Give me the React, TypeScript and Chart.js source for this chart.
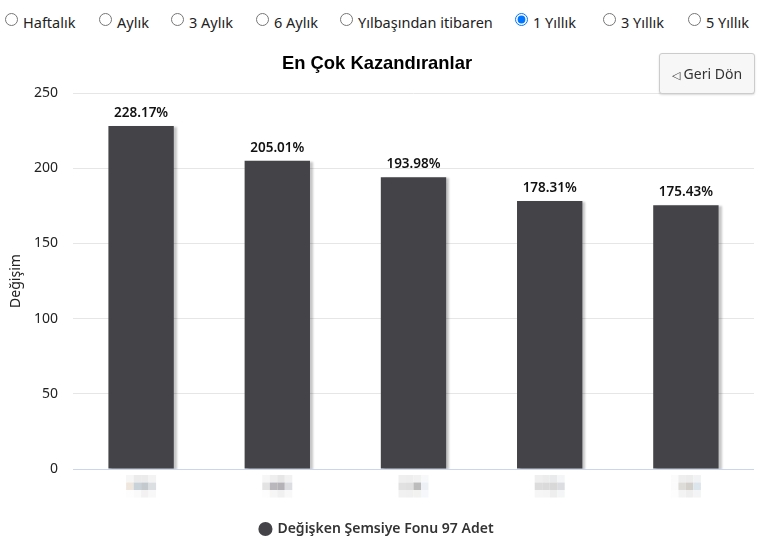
import { useEffect, useRef } from 'react';
import { Chart, registerables, type Plugin } from 'chart.js';

Chart.register(...registerables);

const categories = ['', '', '', '', ''];
const values = [228.17, 205.01, 193.98, 178.31, 175.43];
const yTicks = [0, 50, 100, 150, 200, 250];
const periods = ['Haftalık', 'Aylık', '3 Aylık', '6 Aylık', 'Yılbaşından itibaren', '1 Yıllık', '3 Yıllık', '5 Yıllık'];
const periodLeft = [5, 99, 171, 256, 340, 515, 603, 688];
const selectedPeriod = '1 Yıllık';
const seriesName = 'Değişken Şemsiye Fonu 97 Adet';

const uiFont = '"Noto Sans", sans-serif';

// the names under the bars are pixelated in the original, so they stay as soft blocks
const labelBlocks = [
  [['#f6f6f6', '#ebebeb', '#ebebeb', '#f3f3f3'], ['#efe6de', '#c9d2d8', '#c4c9ce', '#dcdfe1'], ['#fdfdfd', '#fafafa', '#f3f1f1', '#f8f8f8']],
  [['#f6f6f6', '#eeeeee', '#e6e6e6', '#f1f1f1'], ['#e3e3e3', '#b9b7bb', '#b5b2b7', '#dcdde0'], ['#fdfdfd', '#f6f6f6', '#f0f0f0', '#f8f8f8']],
  [['#efefef', '#eeeeee', '#f1f1f1', '#f6f8fa'], ['#e1e1e1', '#dfdfdf', '#bcbcbc', '#edf1f5'], ['#f1f1f1', '#f0f0f0', '#f2f2f0', '#f5f7fa']],
  [['#efefef', '#ececec', '#e9eaec', '#f3f5f7'], ['#dcdcdc', '#dadada', '#d8d8d8', '#dcdde0'], ['#f6f6f6', '#f5f5f5', '#eeeeee', '#f4f5f7']],
  [['#fbfbfb', '#eeeeee', '#ececec', '#f0f2f4'], ['#fbfbfb', '#dedcd8', '#d3d0cb', '#dce4ec'], ['#fdfdfd', '#f3f3f3', '#eeeeee', '#f3f4f5']],
];

const barShadow: Plugin = {
  id: 'barShadow',
  beforeDatasetDraw(chart) {
    const ctx = chart.ctx;
    ctx.save();
    ctx.shadowColor = 'rgba(0,0,0,0.22)';
    ctx.shadowOffsetX = 3;
    ctx.shadowOffsetY = 1;
    ctx.shadowBlur = 2;
  },
  afterDatasetDraw(chart) {
    chart.ctx.restore();
  },
};

const valueLabels: Plugin = {
  id: 'valueLabels',
  afterDatasetsDraw(chart) {
    const ctx = chart.ctx;
    const bars = chart.getDatasetMeta(0).data;
    ctx.save();
    ctx.font = `600 13.5px ${uiFont}`;
    ctx.fillStyle = '#111';
    ctx.textAlign = 'center';
    ctx.textBaseline = 'bottom';
    bars.forEach((bar, i) => {
      ctx.fillText(values[i].toFixed(2) + '%', bar.x, bar.y - 6);
    });
    ctx.restore();
  },
};

const blurredNames: Plugin = {
  id: 'blurredNames',
  afterDraw(chart) {
    const ctx = chart.ctx;
    const x = chart.scales.x;
    const top = chart.chartArea.bottom + 6;
    ctx.save();
    labelBlocks.forEach((rows, i) => {
      const center = x.getPixelForValue(i);
      rows.forEach((row, r) => {
        row.forEach((color, c) => {
          ctx.fillStyle = color;
          ctx.fillRect(center - 15 + c * 7.5, top + r * 7.5, 7.5, 7.5);
        });
      });
    });
    ctx.restore();
  },
};

const App = () => {
  const chartRef = useRef<HTMLCanvasElement>(null);

  useEffect(() => {
    if (!chartRef.current) return;
    const chart = new Chart(chartRef.current, {
      type: 'bar',
      data: {
        labels: categories,
        datasets: [{
          label: seriesName,
          data: values,
          backgroundColor: '#434348',
          categoryPercentage: 1,
          barPercentage: 0.48,
        }],
      },
      options: {
        animation: false,
        responsive: false,
        devicePixelRatio: 1,
        layout: { padding: { top: 0, bottom: 2 } },
        plugins: {
          title: {
            display: true,
            text: 'En Çok Kazandıranlar',
            color: '#000',
            font: { family: '"Liberation Sans", Arial, sans-serif', size: 18.4, weight: 'bold' },
            padding: { top: 13, bottom: 18 },
          },
          legend: {
            position: 'bottom',
            labels: {
              usePointStyle: true,
              pointStyle: 'circle',
              boxWidth: 10,
              boxHeight: 10,
              color: '#333',
              font: { family: uiFont, size: 14, weight: 600 },
              padding: 12,
            },
          },
          tooltip: { enabled: false },
        },
        scales: {
          x: {
            grid: { display: false },
            border: { color: '#ccd6eb' },
            ticks: { display: false },
            afterFit(scale) {
              scale.height = 41;
            },
          },
          y: {
            min: 0,
            max: 250,
            afterBuildTicks(scale) {
              scale.ticks = yTicks.map((value) => ({ value }));
            },
            grid: {
              color: (c) => (c.tick.value === 0 ? '#ccd6eb' : '#e6e6e6'),
              drawTicks: false,
            },
            border: { display: false },
            ticks: { color: '#222', font: { family: uiFont, size: 14 }, padding: 15 },
            title: {
              display: true,
              text: 'Değişim',
              color: '#222',
              font: { family: uiFont, size: 14 },
              padding: { top: 8, bottom: 4 },
            },
            afterFit(scale) {
              scale.width = 73;
            },
          },
        },
      },
      plugins: [barShadow, valueLabels, blurredNames],
    });

    return () => {
      chart.destroy();
    };
  }, []);

  return (
    <div style={{ position: 'absolute', left: 0, top: 0, width: 770, height: 551, overflow: 'hidden', fontFamily: uiFont, fontSize: 14.5, color: '#222', background: '#fff' }}>
      {periods.map((period, i) => (
        <label key={period} style={{ position: 'absolute', left: periodLeft[i], top: 12, whiteSpace: 'nowrap' }}>
          <input type="radio" name="period" defaultChecked={period === selectedPeriod} style={{ margin: '0 5px 0 0', verticalAlign: 2 }} />
          {period}
        </label>
      ))}
      <canvas ref={chartRef} width={754} height={508} style={{ position: 'absolute', left: 0, top: 40 }} />
      <button style={{ position: 'absolute', left: 659, top: 53, width: 96, height: 41, background: '#f7f7f7', border: '1px solid #ccc', borderRadius: 3, boxShadow: '0 1px 2px rgba(0,0,0,0.15)', fontFamily: uiFont, fontSize: 14, color: '#333', padding: 0 }}>
        <span style={{ fontSize: 11 }}>◁</span>&nbsp;Geri Dön
      </button>
    </div>
  );
};

export default App;
